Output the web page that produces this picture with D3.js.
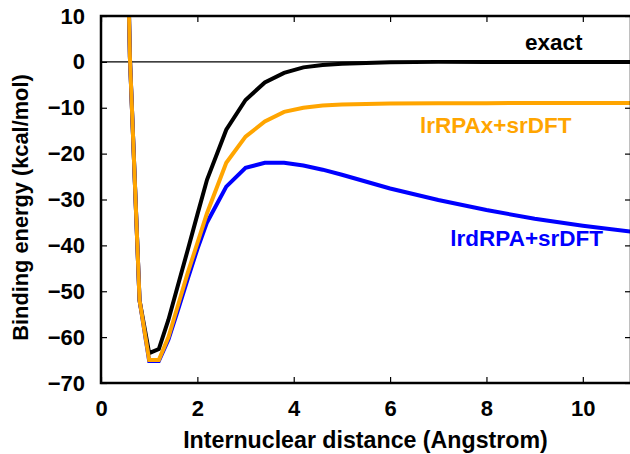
<!DOCTYPE html>
<html>
<head>
<meta charset="utf-8">
<script src="https://cdn.jsdelivr.net/npm/d3@7"></script>
<style>
  body { margin: 0; background: #fff; }
  svg { display: block; font-family: "Liberation Sans", Arial, sans-serif; font-weight: bold; }
</style>
</head>
<body>
<script>
var w = 630;
var h = 454;

// internuclear distance (Angstrom)
var distances = [0.5, 0.6, 0.8, 1.0, 1.2, 1.4, 1.6, 1.8, 2.0, 2.2, 2.6, 3.0, 3.4, 3.8, 4.2, 4.6, 5.0, 6.0, 7.0, 8.0, 9.0, 10.0, 11.0];
// binding energies (kcal/mol)
var exact = [50, 1, -52, -63.5, -62.6, -56.2, -48.6, -41, -33.3, -25.7, -14.8, -8.3, -4.5, -2.4, -1.2, -0.7, -0.4, -0.1, 0, 0, 0, 0, 0];
var lrRPAx = [50, 1, -52, -65, -65, -60, -53, -46, -39.5, -33, -22, -16.3, -13, -10.9, -10.0, -9.5, -9.3, -9.1, -9.0, -9.0, -8.95, -8.95, -8.95];
var lrdRPA = [50, 1, -52, -65.2, -65.2, -60.5, -54, -47.3, -40.8, -35, -27.2, -23.1, -22.0, -22.0, -22.6, -23.5, -24.6, -27.6, -30.1, -32.3, -34.2, -35.7, -37.0];

var xTicks = [0, 2, 4, 6, 8, 10];
var yTicks = [10, 0, -10, -20, -30, -40, -50, -60, -70];

var pl = 101, pr = 631, pt = 16, pb = 383;

var x = d3.scaleLinear().domain([0, 11]).range([pl, pr]);
var y = d3.scaleLinear().domain([-70, 10]).range([pb, pt]);

var svg = d3.select("body").append("svg")
  .attr("width", w)
  .attr("height", h);

svg.append("clipPath").attr("id", "clip")
  .append("rect")
  .attr("x", pl).attr("y", pt)
  .attr("width", pr - pl).attr("height", pb - pt);

// zero line
svg.append("line")
  .attr("x1", pl).attr("x2", pr)
  .attr("y1", y(0)).attr("y2", y(0))
  .attr("stroke", "#000")
  .attr("stroke-width", 1.2);

var line = d3.line()
  .x(function(d) { return x(d[0]); })
  .y(function(d) { return y(d[1]); });

var series = [
  { vals: exact, color: "#000000" },
  { vals: lrdRPA, color: "#0000ff" },
  { vals: lrRPAx, color: "#ffa500" }
];

svg.append("g").attr("clip-path", "url(#clip)")
  .selectAll("path")
  .data(series)
  .enter()
  .append("path")
  .attr("d", function(s) {
    return line(distances.map(function(d, i) { return [d, s.vals[i]]; }));
  })
  .attr("fill", "none")
  .attr("stroke", function(s) { return s.color; })
  .attr("stroke-width", 4)
  .attr("stroke-linejoin", "miter");

// axes, ticks pointing inward
svg.append("g")
  .attr("transform", "translate(0," + pb + ")")
  .call(d3.axisBottom(x).tickValues(xTicks).tickSize(-6).tickPadding(17));
svg.append("g")
  .attr("transform", "translate(0," + pt + ")")
  .call(d3.axisTop(x).tickValues(xTicks).tickSize(-6).tickFormat(""));
svg.append("g")
  .attr("transform", "translate(" + pl + ",0)")
  .call(d3.axisLeft(y).tickValues(yTicks).tickSize(-6).tickPadding(16));
svg.append("g")
  .attr("transform", "translate(" + pr + ",0)")
  .call(d3.axisRight(y).tickValues(yTicks).tickSize(-6).tickFormat(""));

svg.selectAll(".domain").remove();
svg.selectAll(".tick line").attr("stroke", "#000").attr("stroke-width", 1.2);
svg.selectAll(".tick text")
  .attr("fill", "#000")
  .style("font-size", "22px")
  .style("font-family", "'Liberation Sans', Arial, sans-serif")
  .style("font-weight", "bold");

// frame
svg.append("rect")
  .attr("x", pl).attr("y", pt)
  .attr("width", pr - pl).attr("height", pb - pt)
  .attr("fill", "none")
  .attr("stroke", "#000")
  .attr("stroke-width", 2.5);

// axis titles
svg.append("text")
  .attr("x", 365.5)
  .attr("y", 448)
  .attr("text-anchor", "middle")
  .style("font-size", "23.2px")
  .text("Internuclear distance (Angstrom)");

svg.append("text")
  .attr("transform", "translate(28,207.5) rotate(-90)")
  .attr("text-anchor", "middle")
  .style("font-size", "21.8px")
  .text("Binding energy (kcal/mol)");

// curve labels
var labels = [
  { text: "exact", x: 8.8, y: 2.6, color: "#000000" },
  { text: "lrRPAx+srDFT", x: 6.62, y: -15.5, color: "#ffa500" },
  { text: "lrdRPA+srDFT", x: 7.25, y: -40.1, color: "#0000ff" }
];
svg.selectAll(".lbl")
  .data(labels)
  .enter()
  .append("text")
  .attr("class", "lbl")
  .attr("x", function(d) { return x(d.x); })
  .attr("y", function(d) { return y(d.y); })
  .attr("fill", function(d) { return d.color; })
  .style("font-size", "22.5px")
  .text(function(d) { return d.text; });
</script>
</body>
</html>
